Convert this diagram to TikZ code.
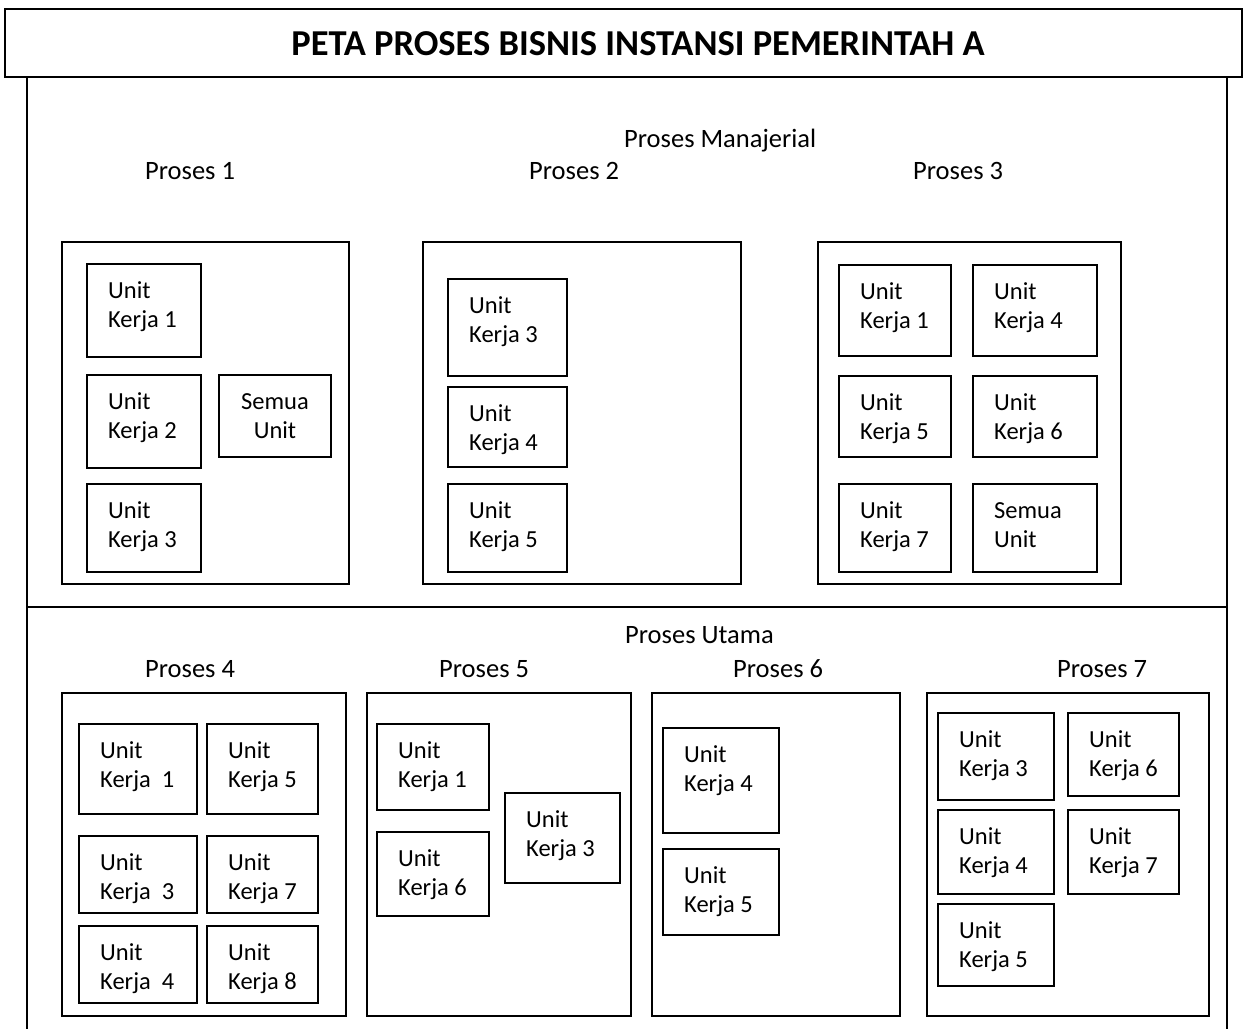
\documentclass[tikz,border=0pt]{standalone}
\usepackage{fontspec}
\setmainfont{Carlito}
\tikzset{
  x=1pt, y=-1pt,
  frame/.style={line width=1.7pt, draw=black},
  procbox/.style={draw=black, line width=1.6pt, inner sep=0pt, fill=none},
  ubox/.style={draw=black, line width=1.5pt, inner sep=0pt},
  utext/.style={inner sep=0pt, anchor=base west, font=\fontsize{24.5}{29.5}\selectfont},
  ctext/.style={inner sep=0pt, anchor=base, font=\fontsize{24.5}{29.5}\selectfont},
  lbl/.style={inner sep=0pt, anchor=base west, font=\fontsize{26.5}{30}\selectfont},
}
% rectangle node spanning (x1,y1)-(x2,y2)
\newcommand\rectnode[6]{%
  \node[#6, minimum width={(#4-#2)*1pt}, minimum height={(#5-#3)*1pt}]
    (#1) at ({(#2+#4)/2},{(#3+#5)/2}) {};}
% unit box with left-aligned two-line text
\newcommand\unitbox[6]{%
  \rectnode{#1}{#2}{#3}{#4}{#5}{ubox}
  \node[utext] (#1t) at (#2+21,#3+34)
    {\begin{tabular}[t]{@{}l@{}}#6\end{tabular}};}
% unit box with centred two-line text
\newcommand\unitboxc[6]{%
  \rectnode{#1}{#2}{#3}{#4}{#5}{ubox}
  \node[ctext] (#1t) at ({(#2+#4)/2},#3+34)
    {\begin{tabular}[t]{@{}c@{}}#6\end{tabular}};}
\begin{document}
\begin{tikzpicture}
\useasboundingbox (0,0) rectangle (1243,1029);
\fill[white] (0,0) rectangle (1243,1029);

% outer frame and section divider
\draw[frame] (27,77) -- (27,1029);
\draw[frame] (1227,77) -- (1227,1029);
\draw[frame] (27,607) -- (1227,607);

% title
\rectnode{title}{5}{9}{1242}{77}{procbox}
\node[inner sep=0pt, anchor=base, font=\fontsize{36.5}{42}\selectfont\bfseries]
  (titletext) at (638,55) {PETA PROSES BISNIS INSTANSI PEMERINTAH A};

% ---- Proses Manajerial ----
\node[lbl] (manajerial) at (624,147) {Proses Manajerial};
\node[lbl] (p1lbl) at (145,179) {Proses 1};
\node[lbl] (p2lbl) at (529,179) {Proses 2};
\node[lbl] (p3lbl) at (913,179) {Proses 3};

\rectnode{p1}{62}{242}{349}{584}{procbox}
\unitbox{p1a}{87}{264}{201}{357}{Unit\\Kerja 1}
\unitbox{p1b}{87}{375}{201}{468}{Unit\\Kerja 2}
\unitbox{p1c}{87}{484}{201}{572}{Unit\\Kerja 3}
\unitboxc{p1d}{219}{375}{331}{457}{Semua\\Unit}

\rectnode{p2}{423}{242}{741}{584}{procbox}
\unitbox{p2a}{448}{279}{567}{376}{Unit\\Kerja 3}
\unitbox{p2b}{448}{387}{567}{467}{Unit\\Kerja 4}
\unitbox{p2c}{448}{484}{567}{572}{Unit\\Kerja 5}

\rectnode{p3}{818}{242}{1121}{584}{procbox}
\unitbox{p3a}{839}{265}{951}{356}{Unit\\Kerja 1}
\unitbox{p3b}{973}{265}{1097}{356}{Unit\\Kerja 4}
\unitbox{p3c}{839}{376}{951}{457}{Unit\\Kerja 5}
\unitbox{p3d}{973}{376}{1097}{457}{Unit\\Kerja 6}
\unitbox{p3e}{839}{484}{951}{572}{Unit\\Kerja 7}
\unitbox{p3f}{973}{484}{1097}{572}{Semua\\Unit}

% ---- Proses Utama ----
\node[lbl] (utama) at (625,643) {Proses Utama};
\node[lbl] (p4lbl) at (145,677) {Proses 4};
\node[lbl] (p5lbl) at (439,677) {Proses 5};
\node[lbl] (p6lbl) at (733,677) {Proses 6};
\node[lbl] (p7lbl) at (1057,677) {Proses 7};

\rectnode{p4}{62}{693}{346}{1016}{procbox}
\unitbox{p4a}{79}{724}{197}{814}{Unit\\Kerja\ \ 1}
\unitbox{p4b}{207}{724}{318}{814}{Unit\\Kerja 5}
\unitbox{p4c}{79}{836}{197}{913}{Unit\\Kerja\ \ 3}
\unitbox{p4d}{207}{836}{318}{913}{Unit\\Kerja 7}
\unitbox{p4e}{79}{926}{197}{1003}{Unit\\Kerja\ \ 4}
\unitbox{p4f}{207}{926}{318}{1003}{Unit\\Kerja 8}

\rectnode{p5}{367}{693}{631}{1016}{procbox}
\unitbox{p5a}{377}{724}{489}{810}{Unit\\Kerja 1}
\unitbox{p5b}{377}{832}{489}{916}{Unit\\Kerja 6}
\unitbox{p5c}{505}{793}{620}{883}{Unit\\Kerja 3}

\rectnode{p6}{652}{693}{900}{1016}{procbox}
\unitbox{p6a}{663}{728}{779}{833}{Unit\\Kerja 4}
\unitbox{p6b}{663}{849}{779}{935}{Unit\\Kerja 5}

\rectnode{p7}{927}{693}{1209}{1016}{procbox}
\unitbox{p7a}{938}{713}{1054}{800}{Unit\\Kerja 3}
\unitbox{p7b}{1068}{713}{1179}{796}{Unit\\Kerja 6}
\unitbox{p7c}{938}{810}{1054}{894}{Unit\\Kerja 4}
\unitbox{p7d}{1068}{810}{1179}{894}{Unit\\Kerja 7}
\unitbox{p7e}{938}{904}{1054}{986}{Unit\\Kerja 5}
\end{tikzpicture}
\end{document}
